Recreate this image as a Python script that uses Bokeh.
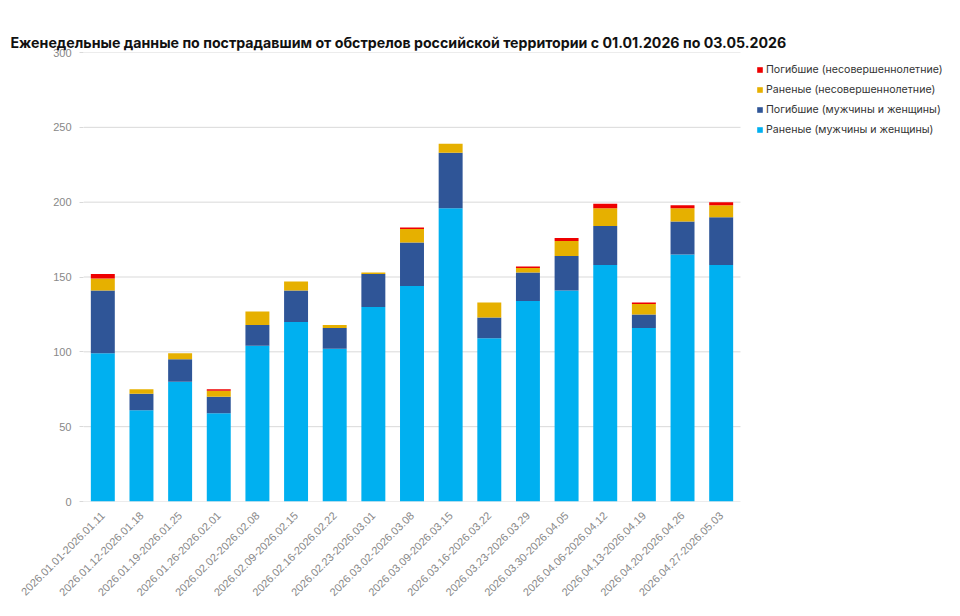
import math
from bokeh.plotting import figure
from bokeh.models import ColumnDataSource, Range1d, FixedTicker, Legend, LegendItem, Title
from bokeh.embed import file_html
from bokeh.resources import INLINE

weeks = [
    "2026.01.01-2026.01.11", "2026.01.12-2026.01.18", "2026.01.19-2026.01.25",
    "2026.01.26-2026.02.01", "2026.02.02-2026.02.08", "2026.02.09-2026.02.15",
    "2026.02.16-2026.02.22", "2026.02.23-2026.03.01", "2026.03.02-2026.03.08",
    "2026.03.09-2026.03.15", "2026.03.16-2026.03.22", "2026.03.23-2026.03.29",
    "2026.03.30-2026.04.05", "2026.04.06-2026.04.12", "2026.04.13-2026.04.19",
    "2026.04.20-2026.04.26", "2026.04.27-2026.05.03",
]
wounded_adults = [99, 61, 80, 59, 104, 120, 102, 130, 144, 196, 109, 134, 141, 158, 116, 165, 158]
killed_adults = [42, 11, 15, 11, 14, 21, 14, 22, 29, 37, 14, 19, 23, 26, 9, 22, 32]
wounded_minors = [8, 3, 4, 4, 9, 6, 2, 1, 9, 6, 10, 3, 10, 12, 7, 9, 8]
killed_minors = [3, 0, 0, 1, 0, 0, 0, 0, 1, 0, 0, 1, 2, 3, 1, 2, 2]
y_ticks = [0, 50, 100, 150, 200, 250, 300]

series_keys = ["wa", "ka", "wm", "km"]
series_labels = [
    "Раненые (мужчины и женщины)",
    "Погибшие (мужчины и женщины)",
    "Раненые (несовершеннолетние)",
    "Погибшие (несовершеннолетние)",
]
colors = ["#00B0F0", "#2F5597", "#E6B000", "#EE0000"]

n = len(weeks)
idx = list(range(n))
source = ColumnDataSource(dict(i=idx, week=weeks, wa=wounded_adults, ka=killed_adults,
                               wm=wounded_minors, km=killed_minors))

# chart area 83..740 px holds the 17 weeks; the frame continues to the right for the legend
W, H = 958, 614
left, top, bottom = 83, 52, 113
cat_px = (740 - left) / n
frame_w = W - left
x_end = -0.5 + frame_w / cat_px

p = figure(
    x_range=Range1d(-0.5, x_end),
    y_range=Range1d(0, 300),
    width=W, height=H,
    output_backend="svg", toolbar_location=None,
    min_border_left=left, min_border_right=0,
    min_border_top=top, min_border_bottom=bottom,
)
p.outline_line_color = None
p.grid.visible = False

# horizontal grid lines only across the category area
gsrc = ColumnDataSource(dict(y=y_ticks, x0=[-0.5] * len(y_ticks), x1=[n - 0.5] * len(y_ticks)))
p.segment(x0="x0", x1="x1", y0="y", y1="y", source=gsrc, line_color="#d9d9d9", line_width=1)

renderers = p.vbar_stack(series_keys, x="i", width=0.62, color=colors,
                         line_color=None, source=source)

items = [LegendItem(label=series_labels[i], renderers=[renderers[i]]) for i in [3, 2, 1, 0]]
legend = Legend(items=items, location=(673, 449 + 3 - 87))
legend.border_line_color = None
legend.background_fill_alpha = 0
legend.label_text_font = "Inter"
legend.label_text_font_size = "10.6px"
legend.label_text_color = "#333333"
legend.glyph_width = 7
legend.glyph_height = 7
legend.label_standoff = 3
legend.spacing = 7
legend.label_height = 13
legend.margin = 0
legend.padding = 7
p.add_layout(legend)

p.title.text = "Еженедельные данные по пострадавшим от обстрелов российской территории с 01.01.2026 по 03.05.2026"
p.title.text_font = "Inter"
p.title.text_font_size = "14.2px"
p.title.text_font_style = "bold"
p.title.text_color = "#111111"
p.title.align = "left"
p.title.offset = -73
p.title.standoff = 4

# blank spacer panel between the title and the chart area (last entry sits next to the frame)
spacer = Title(text=" ", text_font_size="14.2px", standoff=4, text_alpha=0)
p.above = list(p.above) + [spacer]

p.yaxis.ticker = FixedTicker(ticks=y_ticks)
p.yaxis.axis_line_color = None
p.yaxis.major_tick_in = 0
p.yaxis.major_tick_out = 4
p.yaxis.major_tick_line_color = "#d9d9d9"
p.yaxis.minor_tick_line_color = None
p.yaxis.major_label_text_font = "Liberation Sans"
p.yaxis.major_label_text_font_size = "11px"
p.yaxis.major_label_text_color = "#888888"
p.yaxis.major_label_standoff = 8

p.xaxis.ticker = FixedTicker(ticks=idx)
p.xaxis.major_label_overrides = {i: w for i, w in zip(idx, weeks)}
p.xaxis.axis_line_color = None
p.xaxis.major_tick_line_color = None
p.xaxis.minor_tick_line_color = None
p.xaxis.major_label_orientation = math.pi / 4
p.xaxis.major_label_text_font = "Liberation Sans"
p.xaxis.major_label_text_font_size = "11px"
p.xaxis.major_label_text_color = "#888888"
p.xaxis.major_label_standoff = 6

open("out.html", "w").write(file_html(p, INLINE))
